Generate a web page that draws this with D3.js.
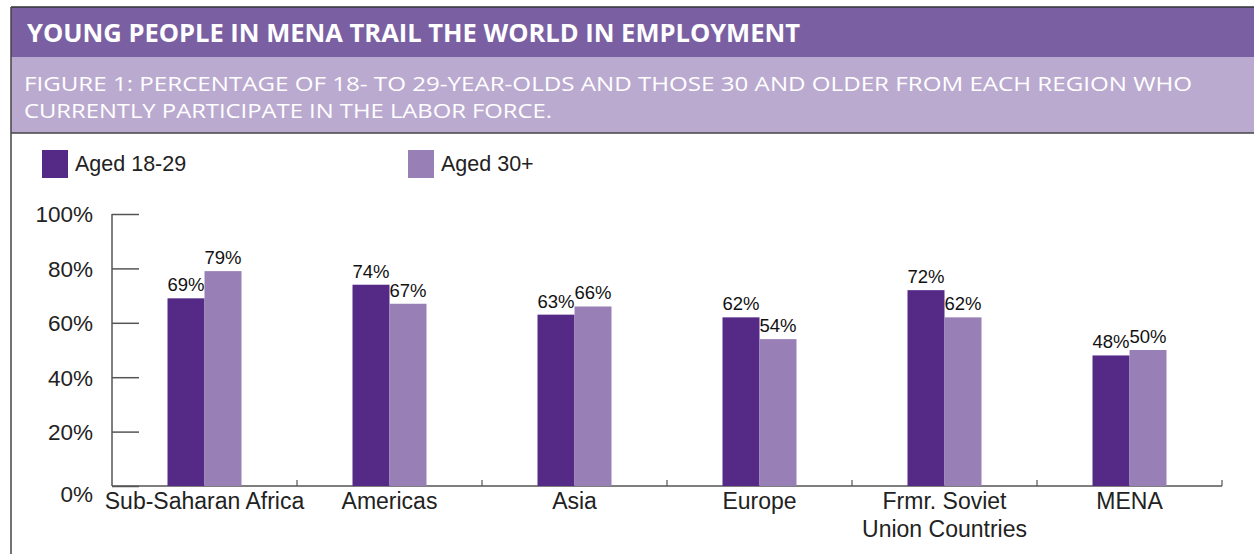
<!DOCTYPE html>
<html>
<head>
<meta charset="utf-8">
<script src="https://cdn.jsdelivr.net/npm/d3@7"></script>
<style>
  body { margin: 0; background: #fff; }
  svg { display: block; }
</style>
</head>
<body>
<div id="chart"></div>
<script>
// data
var regions = ["Sub-Saharan Africa", "Americas", "Asia", "Europe", "Frmr. Soviet|Union Countries", "MENA"];
var series = ["Aged 18-29", "Aged 30+"];
var young = [69, 74, 63, 62, 72, 48];
var older = [79, 67, 66, 54, 62, 50];
var yTicks = [0, 20, 40, 60, 80, 100];

var title = "YOUNG PEOPLE IN MENA TRAIL THE WORLD IN EMPLOYMENT";
var subtitle = ["FIGURE 1: PERCENTAGE OF 18- TO 29-YEAR-OLDS AND THOSE 30 AND OLDER FROM EACH REGION WHO",
                "CURRENTLY PARTICIPATE IN THE LABOR FORCE."];

var colors = ["#552A87", "#9880B7"];
var W = 1254, H = 554;
var chartFont = "'Liberation Sans', Arial, sans-serif";
var headFont = "'Open Sans', 'Noto Sans', sans-serif";

var svg = d3.select("#chart").append("svg")
  .attr("width", W).attr("height", H);

// header bands
svg.append("rect").attr("x", 11).attr("y", 7).attr("width", W - 11).attr("height", 50)
  .attr("fill", "#7A60A3");
svg.append("rect").attr("x", 11).attr("y", 57).attr("width", W - 11).attr("height", 76)
  .attr("fill", "#BBAAD0");
// frame lines
svg.append("line").attr("x1", 11).attr("x2", W).attr("y1", 7).attr("y2", 7)
  .attr("stroke", "#333").attr("stroke-width", 1.5);
svg.append("line").attr("x1", 11).attr("x2", W).attr("y1", 133).attr("y2", 133)
  .attr("stroke", "#444").attr("stroke-width", 1.5);
svg.append("line").attr("x1", 11).attr("x2", 11).attr("y1", 7).attr("y2", H)
  .attr("stroke", "#444").attr("stroke-width", 1.5);

svg.append("text").attr("x", 27).attr("y", 42)
  .attr("fill", "#fff").attr("font-family", headFont).attr("font-weight", "bold")
  .attr("font-size", 24.5).attr("textLength", 773).attr("lengthAdjust", "spacingAndGlyphs")
  .text(title);

// subtitle, two lines
svg.selectAll(".sub").data(subtitle).enter().append("text")
  .attr("class", "sub")
  .attr("x", 24).attr("y", function(d, i) { return 91 + i * 27; })
  .attr("fill", "#fff").attr("font-family", headFont).attr("font-size", 19.5)
  .attr("textLength", function(d, i) { return i == 0 ? 1168 : 528; })
  .attr("lengthAdjust", "spacingAndGlyphs")
  .text(function(d) { return d; });

// legend
var legendX = [42, 408];
var leg = svg.selectAll(".leg").data(series).enter().append("g")
  .attr("class", "leg")
  .attr("transform", function(d, i) { return "translate(" + legendX[i] + ",150)"; });
leg.append("rect").attr("width", 26).attr("height", 28)
  .attr("fill", function(d, i) { return colors[i]; });
leg.append("text").attr("x", 33).attr("y", 21)
  .attr("font-family", chartFont).attr("font-size", 21.5).attr("fill", "#222")
  .text(function(d) { return d; });

// scales
var x0 = d3.scaleBand().domain(regions).range([112, 1222]).paddingInner(0).paddingOuter(0);
var x1 = d3.scaleBand().domain(series).range([0, 74]);
var y = d3.scaleLinear().domain([0, 100]).range([486, 214]);

// y axis
var yAxis = d3.axisLeft(y).tickValues(yTicks).tickSize(-27).tickPadding(0)
  .tickFormat(function(d) { return d + "%"; });
var ya = svg.append("g").attr("transform", "translate(112,0)").call(yAxis);
ya.select(".domain").remove();
ya.append("line").attr("x1", 0).attr("x2", 0).attr("y1", y(100)).attr("y2", y(0))
  .attr("stroke", "#555").attr("stroke-width", 1.5);
ya.selectAll(".tick line").attr("stroke", "#555").attr("stroke-width", 1.5);
ya.selectAll(".tick text").attr("x", -19).attr("font-family", chartFont)
  .attr("font-size", 22.5).attr("fill", "#222")
  .attr("dy", function(d) { return d == 0 ? "0.68em" : "0.35em"; });

// x axis
var xa = svg.append("g").attr("transform", "translate(0,486)");
xa.append("line").attr("x1", 112).attr("x2", 1222).attr("stroke", "#555").attr("stroke-width", 1.5);
xa.selectAll(".xt").data(regions.slice(1).concat(["end"])).enter().append("line")
  .attr("class", "xt")
  .attr("x1", function(d, i) { return i < 5 ? x0(d) : x0.range()[1]; })
  .attr("x2", function(d, i) { return i < 5 ? x0(d) : x0.range()[1]; })
  .attr("y1", 0).attr("y2", -6).attr("stroke", "#555").attr("stroke-width", 1.2);

var cat = xa.selectAll(".cat").data(regions).enter().append("text")
  .attr("class", "cat")
  .attr("text-anchor", "middle")
  .attr("font-family", chartFont).attr("font-size", 23).attr("fill", "#222");
cat.selectAll("tspan").data(function(d) {
    var cx = x0(d) + x0.bandwidth() / 2;
    return d.split("|").map(function(s) { return {s: s, cx: cx}; });
  }).enter().append("tspan")
  .attr("x", function(d) { return d.cx; })
  .attr("y", function(d, i) { return 23 + i * 28; })
  .text(function(d) { return d.s; });

// bars
var groups = svg.selectAll(".grp").data(regions).enter().append("g")
  .attr("class", "grp")
  .attr("transform", function(d) { return "translate(" + (x0(d) + (x0.bandwidth() - 74) / 2) + ",0)"; });

var barData = function(d, i) {
  return [{k: series[0], v: young[i], c: colors[0]}, {k: series[1], v: older[i], c: colors[1]}];
};
groups.selectAll("rect").data(barData).enter().append("rect")
  .attr("x", function(d) { return x1(d.k); })
  .attr("width", x1.bandwidth())
  .attr("y", function(d) { return y(d.v); })
  .attr("height", function(d) { return y(0) - y(d.v); })
  .attr("fill", function(d) { return d.c; });

groups.selectAll("text").data(barData).enter().append("text")
  .attr("x", function(d) { return x1(d.k) + x1.bandwidth() / 2; })
  .attr("y", function(d) { return y(d.v) - 7; })
  .attr("text-anchor", "middle")
  .attr("font-family", chartFont).attr("font-size", 18.5).attr("fill", "#111")
  .text(function(d) { return d.v + "%"; });
</script>
</body>
</html>
